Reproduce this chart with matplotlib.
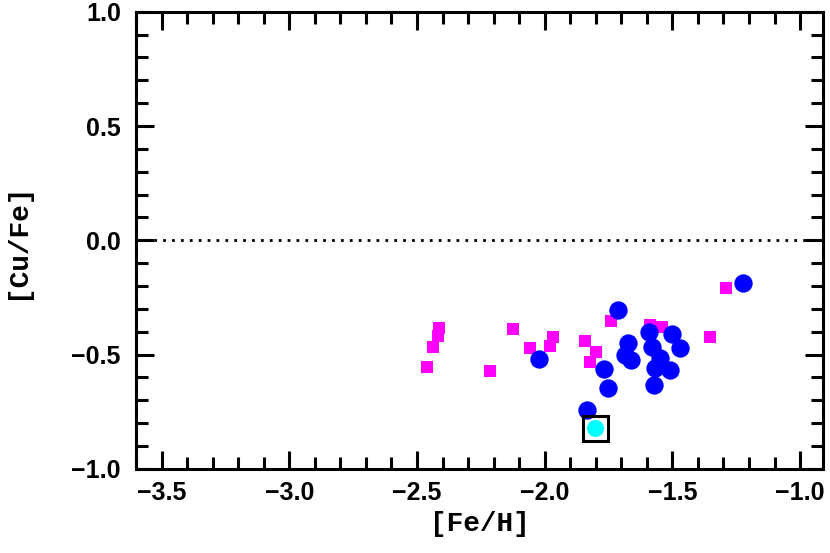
# -*- coding: utf-8 -*-
"""
[Cu/Fe] frente a [Fe/H].
"""

import numpy as np
import matplotlib
matplotlib.use('Agg')
import matplotlib.pyplot as plt
from matplotlib.ticker import MultipleLocator

TickSize = 18
AxisLabelSize = 20

# Estrellas de comparación (cuadrados magenta)
feh_mag = [-2.460, -2.437, -2.417, -2.413, -2.215, -2.126, -2.058, -1.980, -1.967,
           -1.842, -1.801, -1.823, -1.741, -1.588, -1.540, -1.353, -1.290]
cufe_mag = [-0.553, -0.465, -0.417, -0.385, -0.572, -0.388, -0.472, -0.461, -0.422,
            -0.441, -0.487, -0.531, -0.352, -0.371, -0.378, -0.422, -0.210]

# Estrellas del cúmulo (círculos azules)
feh_blue = [-2.022, -1.712, -1.767, -1.754, -1.833, -1.673, -1.686, -1.662, -1.592,
            -1.503, -1.470, -1.581, -1.549, -1.568, -1.509, -1.572, -1.225]
cufe_blue = [-0.521, -0.305, -0.563, -0.647, -0.742, -0.451, -0.502, -0.524, -0.400,
             -0.411, -0.472, -0.465, -0.516, -0.560, -0.567, -0.633, -0.188]

# Estrella destacada (cian, con recuadro)
feh_cyan = [-1.803]
cufe_cyan = [-0.820]

#%%

fig = plt.figure(figsize=(8.3, 5.53), dpi=100)
ax = fig.add_axes([0.164, 0.152, 0.9916 - 0.164, 0.9788 - 0.152])

ax.axhline(0.0, color='k', linestyle=(0, (1, 2.2)), linewidth=2.0)

ax.plot(feh_mag, cufe_mag, 's', color='magenta', markersize=9.2, markeredgewidth=0)
ax.plot(feh_blue, cufe_blue, 'o', color='blue', markersize=13.2, markeredgewidth=0)
ax.plot(feh_cyan, cufe_cyan, 'o', color='cyan', markersize=12.3, markeredgewidth=0)
ax.plot(feh_cyan, cufe_cyan, 's', markerfacecolor='none', markeredgecolor='k',
        markersize=18, markeredgewidth=2.2)

ax.set_xlim(-3.6, -0.91)
ax.set_ylim(-1.0, 1.0)

ax.xaxis.set_major_locator(MultipleLocator(0.5))
ax.xaxis.set_minor_locator(MultipleLocator(0.1))
ax.yaxis.set_major_locator(MultipleLocator(0.5))
ax.yaxis.set_minor_locator(MultipleLocator(0.1))

ax.tick_params(which='both', direction='in', top=True, right=True, width=2.2)
ax.tick_params(which='major', length=13)
ax.tick_params(which='minor', length=8.5)
ax.tick_params(axis='x', which='major', pad=9)
ax.tick_params(axis='y', which='major', pad=11)

for sp in ax.spines.values():
    sp.set_linewidth(2.2)

ax.set_xticklabels([f'{v:.1f}'.replace('-', '\u2212') for v in ax.get_xticks()])
ax.set_yticklabels([f'{v:.1f}'.replace('-', '\u2212') for v in ax.get_yticks()])
for lab in ax.get_xticklabels() + ax.get_yticklabels():
    lab.set_fontfamily('Liberation Sans')
    lab.set_fontweight('bold')
    lab.set_fontsize(TickSize)

ax.set_xlabel('[Fe/H]', fontsize=AxisLabelSize, fontfamily='Liberation Mono',
              fontweight='bold', labelpad=4)
ax.set_ylabel('[Cu/Fe]', fontsize=AxisLabelSize, fontfamily='Liberation Mono',
              fontweight='bold', labelpad=30)

fig.savefig('out.png', dpi=100)
